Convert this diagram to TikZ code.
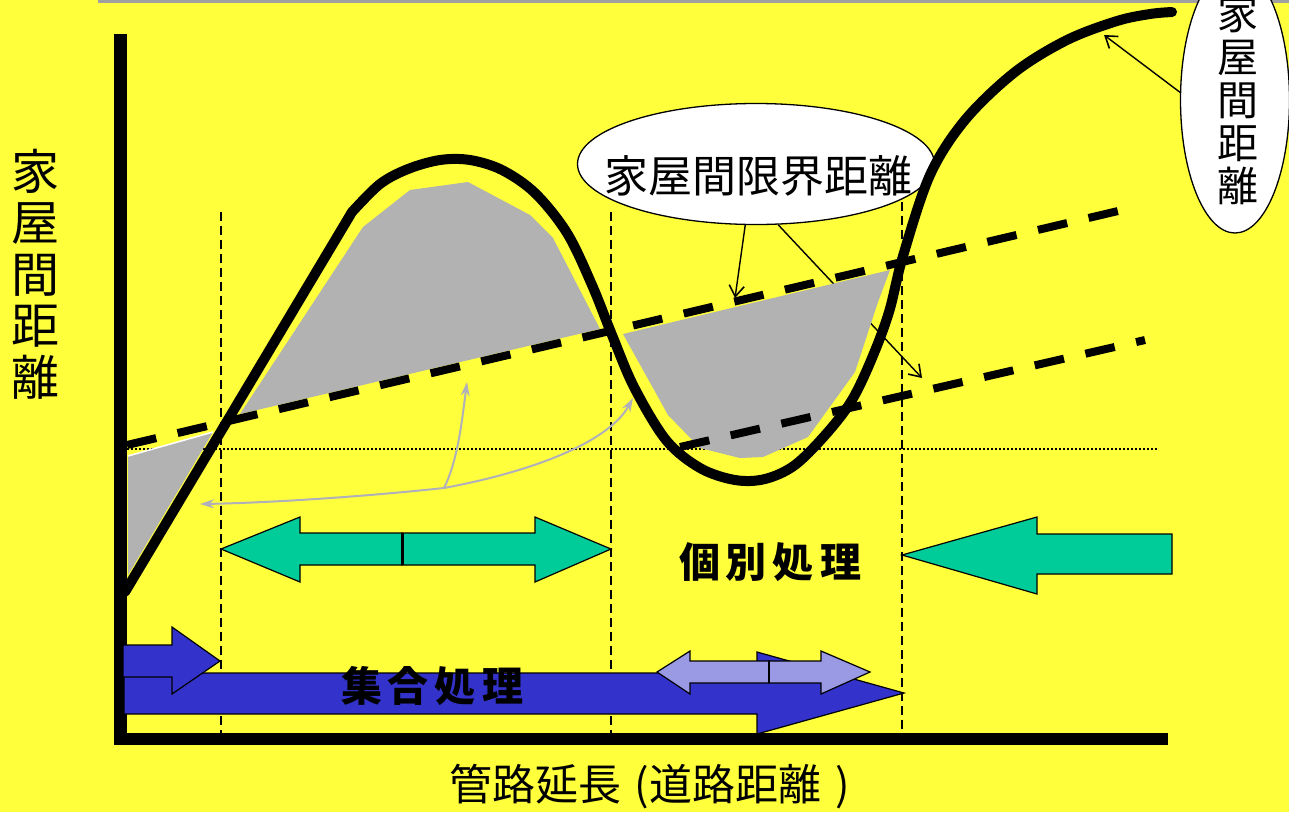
\documentclass[tikz,border=0pt]{standalone}
\usepackage{fontspec}
\newfontfamily\cjk{Noto Sans CJK JP}
\usetikzlibrary{shapes.geometric,arrows.meta}
\definecolor{bgyellow}{RGB}{255,255,60}
\definecolor{topgray}{RGB}{160,160,160}
\definecolor{fillgray}{RGB}{178,178,178}
\definecolor{guidegray}{RGB}{176,176,186}
\definecolor{arrgreen}{RGB}{0,204,153}
\definecolor{arrblue}{RGB}{51,51,204}
\definecolor{arrlilac}{RGB}{153,153,228}
\begin{document}
\begin{tikzpicture}[x=1pt,y=-1pt,
  vguide/.style={line width=2.6pt, dash pattern=on 9pt off 5pt},
  hdot/.style={line width=2pt, dash pattern=on 2pt off 2pt},
  thickdash/.style={line width=8pt, dash pattern=on 30pt off 22pt},
  curve/.style={line width=10pt, line cap=round, line join=round},
  guidearrow/.style={draw=guidegray, line width=2pt, -{Stealth[length=14pt,width=9pt]}},
  callout/.style={line width=1.4pt, -{Straight Barb[length=11pt,width=15pt,line width=1.6pt]}},
  shapearrow/.style={draw=black, line width=1.2pt, line join=miter},
  bubble/.style={draw=black, fill=white, ellipse, line width=1.3pt, inner sep=0pt},
  labelfont/.style={font=\cjk\fontsize{#1}{#1}\selectfont},
]
\useasboundingbox (0,0) rectangle (1289,812);
\fill[bgyellow] (0,0) rectangle (1289,812);
\fill[topgray] (98,0) rectangle (1289,3);

% guide lines
\draw[vguide] (221,212) -- (221,733);
\draw[vguide] (611,212) -- (611,733);
\draw[vguide] (902,202) -- (902,733);
\draw[hdot] (127,449) -- (1158,449);

% gray guide arrows
\coordinate (g0) at (444,488);
\coordinate (g1) at (200,504);
\coordinate (g2) at (633,398);
\coordinate (g3) at (467,382);
\draw[guidearrow] (g0) .. controls (350,498) and (260,503) .. (g1);
\draw[guidearrow] (g0) .. controls (540,470) and (610,440) .. (g2);
\draw[guidearrow] (g0) .. controls (458,460) and (462,420) .. (g3);

% callout bubble (limit distance)
\node[bubble, minimum width=357pt, minimum height=121pt] (e1) at (756,164) {};
\node[labelfont=44] (t1) at (758,176) {家屋間限界距離};
\coordinate (c2) at (922,378);
\draw[callout] (e1.-70) -- (c2);

% gray areas
\fill[fillgray] (128,456) -- (213,432) -- (128,575) -- cycle;
\draw[white, line width=1.5pt] (128,456) -- (213,432);
\fill[fillgray] (240,414) -- (363,227) -- (410,190) -- (468,182) -- (530,215) -- (553,238) -- (600,329) -- cycle;
\fill[fillgray] (623,334) -- (890,270) -- (878,302) -- (855,372) -- (808,437) -- (763,457) -- (740,458) -- (700,448) -- (668,415) -- cycle;

% dashed limit lines
\draw[thickdash] (127,445) -- (1135,207);
\draw[thickdash] (680,447) -- (1145,340);

% main curve
\draw[curve] (125,592) -- plot[smooth, tension=0.55] coordinates {(352,212) (380,184) (408,169) (440,160) (470,160) (502,170) (535,193) (567,233) (592,285) (612,335) (634,387) (666,440) (700,468) (735,480) (765,479) (795,465) (827,433) (852,400) (872,358) (889,312) (903,256) (930,175) (965,120) (1015,72) (1067,40) (1117,21) (1150,14) (1172,12)};

% axes
\draw[line width=13pt] (120.5,34) -- (120.5,739);
\draw[line width=12pt] (114,739) -- (1168,739);

% green arrows
\draw[shapearrow, fill=arrgreen] (221,549) -- (300,517) -- (300,533) -- (402,533) -- (402,565) -- (300,565) -- (300,582) -- cycle;
\draw[shapearrow, fill=arrgreen] (402,533) -- (535,533) -- (535,517) -- (611,549) -- (535,582) -- (535,565) -- (402,565) -- cycle;
\draw[line width=3pt] (402,533) -- (402,565);
\draw[shapearrow, fill=arrgreen] (902,555) -- (1037,517) -- (1037,534) -- (1172,534) -- (1172,574) -- (1037,574) -- (1037,594) -- cycle;

% blue arrows
\draw[shapearrow, fill=arrblue] (124,673) -- (757,673) -- (757,652) -- (904,693) -- (757,734) -- (757,714) -- (124,714) -- cycle;
\draw[shapearrow, fill=arrblue] (123,645) -- (172,645) -- (172,627) -- (220,661) -- (172,694) -- (172,677) -- (123,677) -- cycle;
\draw[shapearrow, fill=arrlilac] (657,672) -- (690,651) -- (690,661) -- (769,661) -- (769,683) -- (690,683) -- (690,694) -- cycle;
\draw[shapearrow, fill=arrlilac] (769,661) -- (821,661) -- (821,651) -- (870,672) -- (821,694) -- (821,683) -- (769,683) -- cycle;
\draw[line width=2.5pt] (769,661) -- (769,683);

% bold labels
\node[font=\cjk\bfseries\fontsize{41}{41}\selectfont] (ind) at (770,562) {個\kern6pt 別\kern6pt 処\kern6pt 理};
\node[font=\cjk\bfseries\fontsize{41}{41}\selectfont] (col) at (432,686) {集\kern6pt 合\kern6pt 処\kern6pt 理};

% axis labels
\node[font=\cjk\fontsize{48}{51.5}\selectfont, align=center] (ylab) at (36,274) {家\\屋\\間\\距\\離};
\node[labelfont=43] (xlab) at (650,787) {管路延長\hspace{13pt}(道路距離\hspace{14pt})};

% right bubble
\node[bubble, minimum width=109pt, minimum height=266pt] (e2) at (1235,100) {};
\node[font=\cjk\fontsize{41}{43}\selectfont, align=center] (t2) at (1238,100) {家\\屋\\間\\距\\離};

% callout arrows
\coordinate (c1) at (735,298);
\coordinate (c3) at (1104,35);
\draw[callout] (e1.-100) -- (c1);
\draw[callout] (e2.172) -- (c3);
\end{tikzpicture}
\end{document}
